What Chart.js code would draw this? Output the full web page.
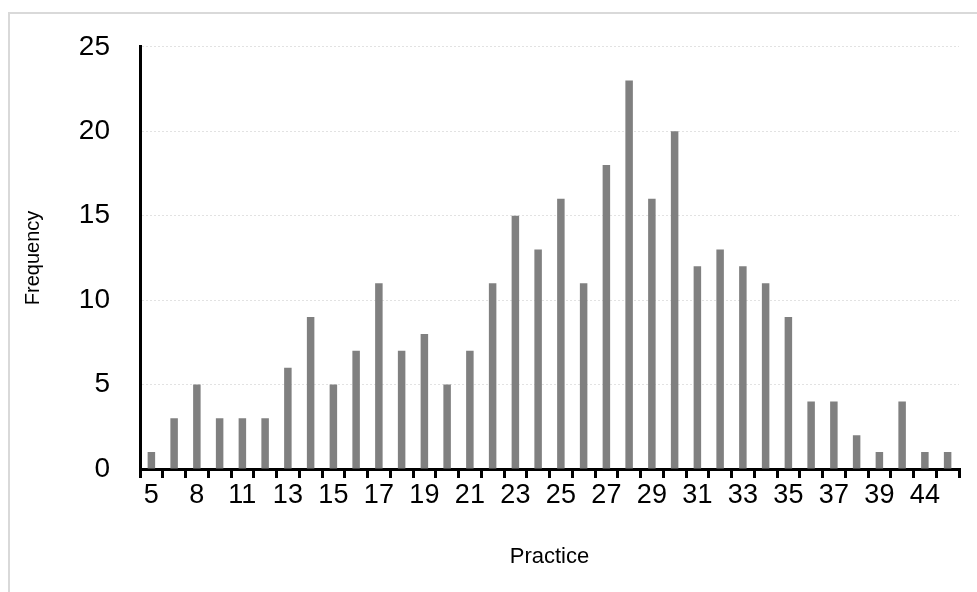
<!DOCTYPE html>
<html>
<head>
<meta charset="utf-8">
<script src="https://cdn.jsdelivr.net/npm/chart.js@4/dist/chart.umd.min.js"></script>
<style>
html,body{margin:0;padding:0;background:#fff;}
#wrap{position:relative;width:977px;height:592px;}
</style>
</head>
<body>
<div id="wrap"><canvas id="c" width="977" height="592"></canvas></div>
<script>
const categories = ['5','6','8','9','11','12','13','14','15','16','17','18','19','20','21','22','23','24','25','26','27','28','29','30','31','32','33','34','35','36','37','38','39','40','44','45'];
const frequency = [1,3,5,3,3,3,6,9,5,7,11,7,8,5,7,11,15,13,16,11,18,23,16,20,12,13,12,11,9,4,4,2,1,4,1,1];
const yTicks = [0,5,10,15,20,25];

const FONT = "'Liberation Sans','DejaVu Sans',sans-serif";

const frame = {
  id:'frame',
  beforeDraw(chart){
    const ctx = chart.ctx;
    ctx.save();
    ctx.fillStyle = '#ffffff';
    ctx.fillRect(0,0,chart.width,chart.height);
    ctx.strokeStyle = '#d9d9d9';
    ctx.lineWidth = 2;
    ctx.beginPath();
    ctx.moveTo(9, chart.height + 5);
    ctx.lineTo(9, 13);
    ctx.lineTo(chart.width + 5, 13);
    ctx.stroke();
    ctx.restore();
  }
};

new Chart(document.getElementById('c'), {
  type:'bar',
  data:{
    labels: categories,
    datasets:[{
      label:'Frequency',
      data: frequency,
      backgroundColor:'#808080',
      borderWidth:0,
      categoryPercentage:1,
      barPercentage:0.33
    }]
  },
  options:{
    responsive:false,
    animation:false,
    devicePixelRatio:1,
    layout:{padding:{left:0,right:18,top:46,bottom:0}},
    plugins:{legend:{display:false},tooltip:{enabled:false}},
    scales:{
      x:{
        offset:true,
        grid:{
          offset:true,
          drawOnChartArea:false,
          drawTicks:true,
          tickLength:9,
          color:'#000',
          lineWidth:3
        },
        border:{display:true,color:'#000',width:3},
        ticks:{
          autoSkip:false,
          maxRotation:0,
          minRotation:0,
          padding:1,
          color:'#000',
          font:{family:FONT,size:27},
          callback:function(v,i){ return i % 2 === 0 ? categories[i] : ''; }
        },
        title:{display:true,text:'Practice',color:'#000',font:{family:FONT,size:22},padding:{top:0,bottom:22}},
        afterFit:function(s){ s.height = 592 - 469; }
      },
      y:{
        min:0,max:25,
        afterBuildTicks:function(s){ s.ticks = yTicks.map(v=>({value:v})); },
        grid:{
          drawTicks:false,
          color:function(ctx){ return ctx.tick && ctx.tick.value === 0 ? 'rgba(0,0,0,0)' : '#e2e2e2'; },
          lineWidth:1
        },
        border:{display:true,color:'#000',width:3,dash:[2,2]},
        ticks:{
          padding:30,
          color:'#000',
          font:{family:FONT,size:28}
        },
        title:{display:true,text:'Frequency',color:'#000',font:{family:FONT,size:20},padding:{top:21,bottom:0}},
        afterFit:function(s){ s.width = 140; }
      }
    }
  },
  plugins:[frame]
});
</script>
</body>
</html>
